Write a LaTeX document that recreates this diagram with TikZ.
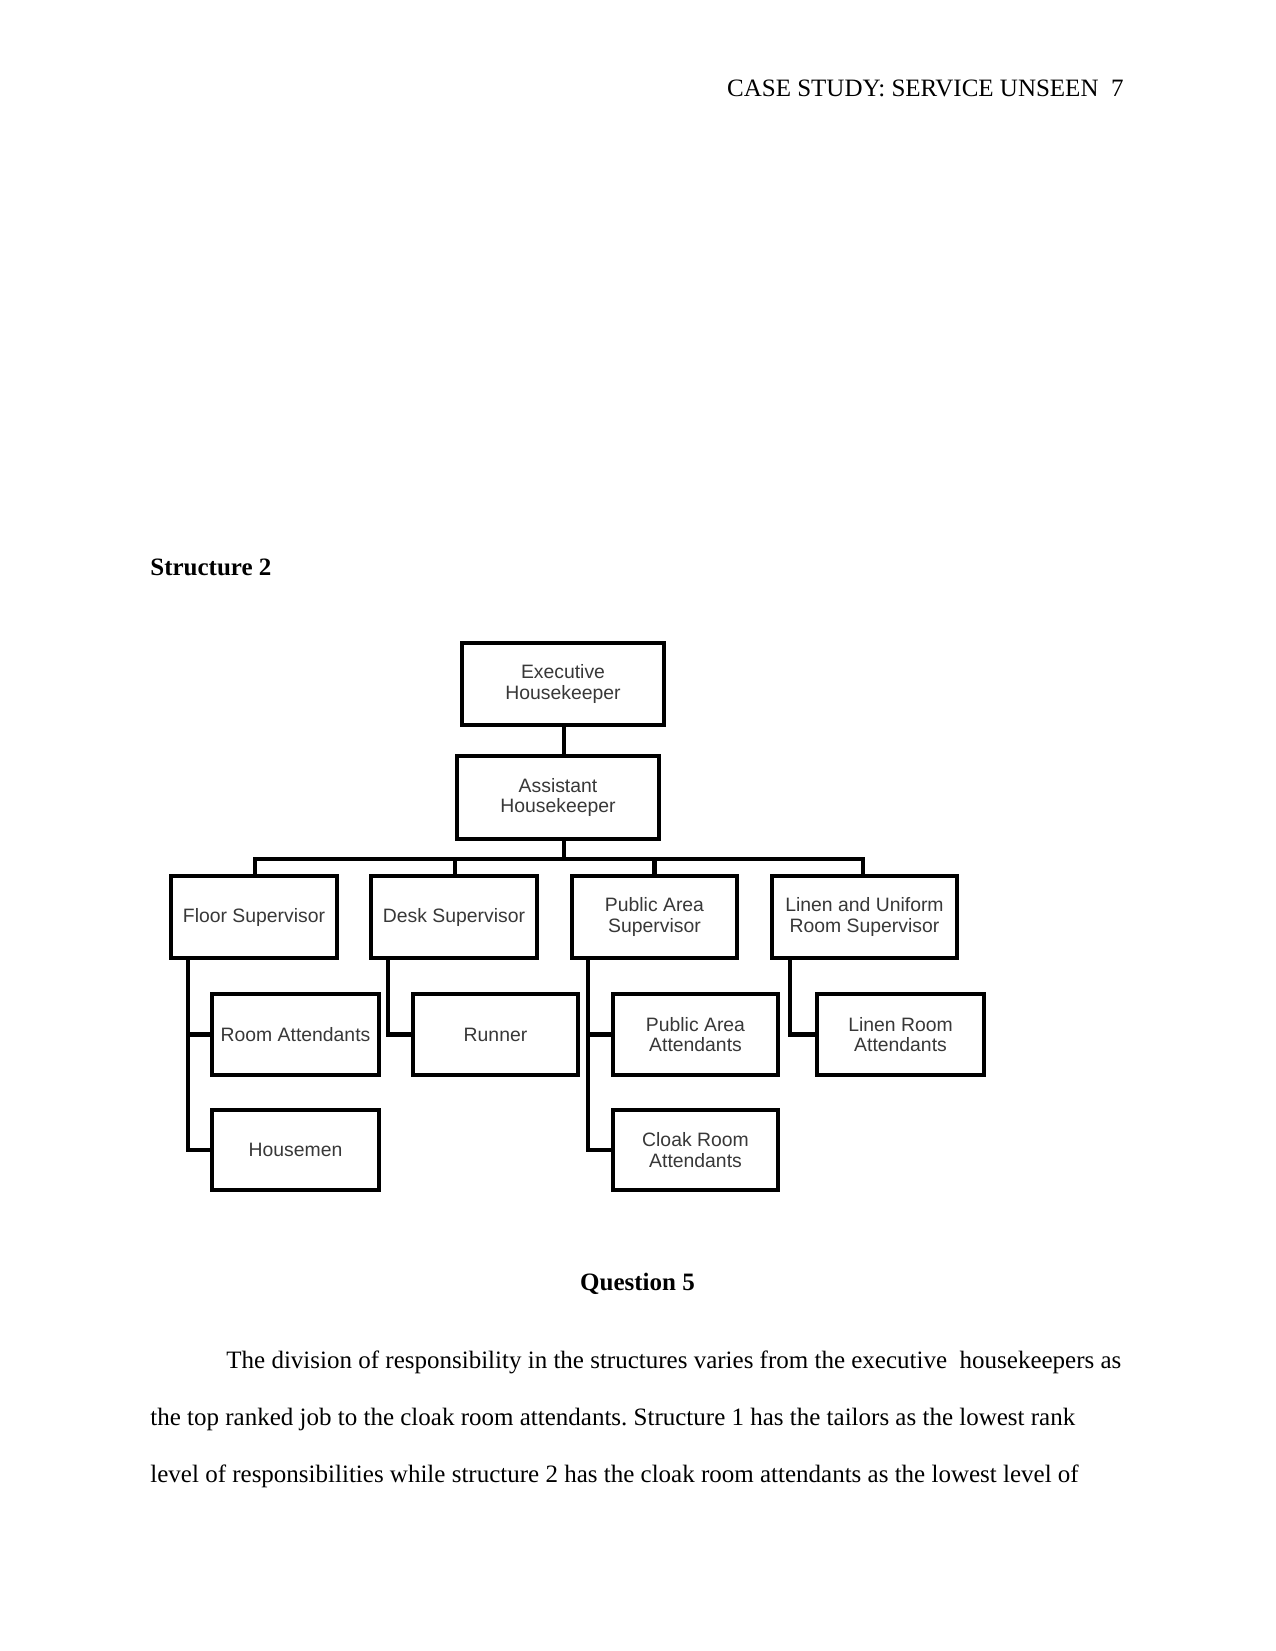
\documentclass[tikz,border=0pt]{standalone}
\usepackage{fontspec}
\setmainfont{Liberation Serif}
\newfontfamily\boxfont{Liberation Sans}
\frenchspacing
\begin{document}
\begin{tikzpicture}[x=0.48pt,y=-0.48pt,
  box/.style args={#1 by #2}{draw=black, line width=2.1pt, fill=white, rectangle,
    minimum width={#1*0.48pt}, minimum height={#2*0.48pt}, inner sep=0pt,
    align=center, text=black!78, font=\boxfont\fontsize{9.3}{9.7}\selectfont},
  link/.style={line width=2.1pt, draw=black},
  body/.style={anchor=base west, inner sep=0pt, font=\fontsize{12}{14}\selectfont}]
\fill[white] (0,0) rectangle (1275,1651);
\path[use as bounding box] (0,0) rectangle (1275,1651);

% page texts
\node[anchor=base east, inner sep=0pt, font=\fontsize{12}{14}\selectfont] (hdr) at (1124,97) {CASE STUDY: SERVICE UNSEEN\ \ 7};
\node[anchor=base west, inner sep=0pt, font=\bfseries\fontsize{12}{14}\selectfont] (s2) at (150,575) {Structure 2};
\node[anchor=base, inner sep=0pt, font=\bfseries\fontsize{12}{14}\selectfont] (q5) at (637.5,1290) {Question 5};
\node[body] (l1) at (226,1368) {The division of responsibility in the structures varies from the executive\ \ housekeepers as};
\node[body] (l2) at (150,1425) {the top ranked job to the cloak room attendants. Structure 1 has the tailors as the lowest rank};
\node[body] (l3) at (150,1482) {level of responsibilities while structure 2 has the cloak room attendants as the lowest level of};

\coordinate (busL) at (255,859);
\coordinate (busR) at (863,859);

% boxes
\node[box=202 by 82] (exec) at (563,684) {Executive\\Housekeeper};
\node[box=202 by 83] (asst) at (558,797.5) {Assistant\\Housekeeper};

\node[box=166 by 82] (floor) at (254,917) {Floor Supervisor};
\node[box=166 by 82] (desk) at (454,917) {Desk Supervisor};
\node[box=165 by 82] (pas) at (654.5,917) {Public Area\\Supervisor};
\node[box=185 by 82] (linen) at (864.5,917) {Linen and Uniform\\Room Supervisor};

\node[box=167 by 81] (room) at (295.5,1034.5) {Room Attendants};
\node[box=167 by 80] (house) at (295.5,1150) {Housemen};
\node[box=165 by 81] (runner) at (495.5,1034.5) {Runner};
\node[box=165 by 81] (paa) at (695.5,1034.5) {Public Area\\Attendants};
\node[box=165 by 80] (cloak) at (695.5,1150) {Cloak Room\\Attendants};
\node[box=167 by 81] (lra) at (900.5,1034.5) {Linen Room\\Attendants};

% top links
\draw[link] ([xshift=0.5pt]exec.south) -- ([xshift=0.5pt]exec.south |- asst.north);
\draw[link] ([xshift=2.9pt]asst.south) -- ([xshift=2.9pt]asst.south |- busL);
\draw[link, line cap=rect] (busL) -- (busR);
\draw[link] (busL) -- (busL |- floor.north);
\draw[link] (floor.north -| desk.north) ++(0.5pt,0) coordinate (dk) (dk |- busL) -- (dk);
\draw[link] (pas.north |- busL) -- (pas.north);
\draw[link] (busR) -- (busR |- linen.north);

% child links
\coordinate (fl) at (188,958);
\coordinate (dl) at (388,958);
\coordinate (pl) at (588,958);
\coordinate (ll) at (790,958);
\draw[link, line join=miter] (fl |- floor.south) -- (fl |- house.west) -- (house.west);
\draw[link] (fl |- room.west) -- (room.west);
\draw[link, line join=miter] (dl |- desk.south) -- (dl |- runner.west) -- (runner.west);
\draw[link, line join=miter] (pl |- pas.south) -- (pl |- cloak.west) -- (cloak.west);
\draw[link] (pl |- paa.west) -- (paa.west);
\draw[link, line join=miter] (ll |- linen.south) -- (ll |- lra.west) -- (lra.west);
\end{tikzpicture}
\end{document}
